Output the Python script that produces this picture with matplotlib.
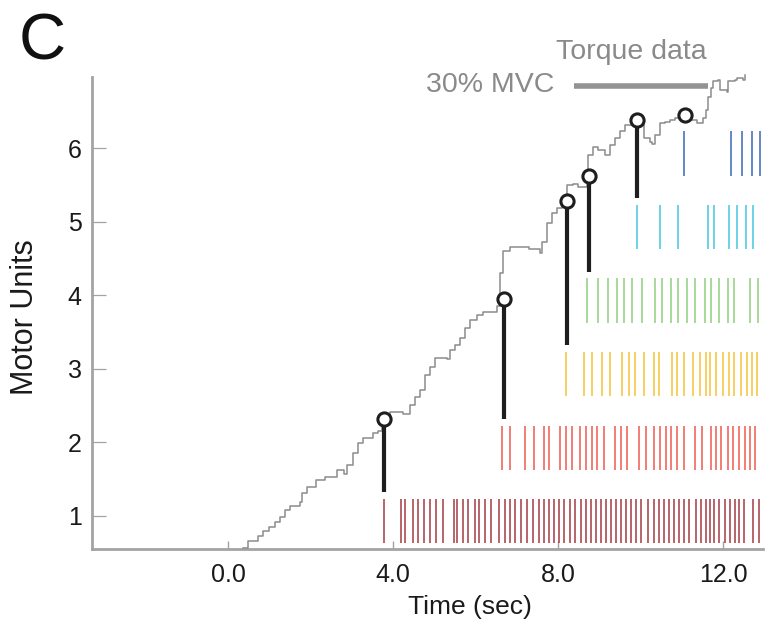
import matplotlib
matplotlib.use("Agg")
import matplotlib.pyplot as plt

plt.rcParams['font.family'] = ['Liberation Sans', 'DejaVu Sans']

# ---------------- data ----------------
torque_t = [0.37, 0.49, 0.73, 0.86, 1.00, 1.14, 1.26, 1.38, 1.50, 1.75, 1.79, 1.91, 2.13, 2.35,
            2.63, 2.80, 2.88, 3.04, 3.16, 3.28, 3.52, 3.64, 3.73, 3.93, 4.09, 4.25, 4.41, 4.53,
            4.65, 4.78, 4.90, 5.02, 5.30, 5.38, 5.50, 5.62, 5.75, 5.87, 6.03, 6.19, 6.43, 6.51,
            6.59, 6.67, 6.84, 7.30, 7.56, 7.60, 7.73, 7.85, 7.97, 8.09, 8.23, 8.37, 8.49, 8.70,
            8.73, 8.86, 8.98, 9.14, 9.26, 9.38, 9.50, 9.62, 9.79, 9.92, 10.07, 10.08, 10.23, 10.27,
            10.35, 10.47, 10.59, 10.72, 10.84, 11.00, 11.20, 11.36, 11.52, 11.60, 11.64, 11.72,
            11.76, 11.89, 11.93, 12.09, 12.13, 12.29, 12.33, 12.49, 12.53]
torque_v = [0.56, 0.66, 0.73, 0.79, 0.85, 0.92, 0.99, 1.08, 1.13, 1.19, 1.31, 1.39, 1.49, 1.53,
            1.62, 1.57, 1.69, 1.85, 1.99, 2.06, 2.13, 2.15, 2.26, 2.41, 2.41, 2.39, 2.51, 2.62,
            2.71, 2.92, 3.03, 3.15, 3.13, 3.26, 3.33, 3.42, 3.55, 3.67, 3.73, 3.78, 3.77, 3.85,
            4.30, 4.60, 4.66, 4.63, 4.58, 4.73, 4.98, 5.12, 5.19, 5.23, 5.50, 5.52, 5.48, 5.64,
            5.91, 6.02, 5.98, 5.91, 6.05, 6.14, 6.23, 6.32, 6.39, 6.40, 6.32, 6.14, 6.09, 6.06,
            6.18, 6.34, 6.36, 6.38, 6.41, 6.45, 6.39, 6.34, 6.41, 6.52, 6.70, 6.82,
            6.91, 6.93, 6.80, 6.77, 6.92, 6.93, 6.96, 6.93, 7.00]

mu1 = [3.79, 4.19, 4.29, 4.48, 4.61, 4.75, 4.90, 5.04, 5.20, 5.47, 5.55, 5.69, 5.83, 5.98, 6.09,
       6.23, 6.38, 6.58, 6.71, 6.84, 6.96, 7.10, 7.26, 7.39, 7.53, 7.66, 7.79, 7.91, 8.03, 8.15,
       8.28, 8.41, 8.55, 8.67, 8.79, 8.91, 9.04, 9.16, 9.28, 9.40, 9.52, 9.64, 9.76, 9.88, 10.01,
       10.17, 10.33, 10.44, 10.56, 10.68, 10.81, 10.93, 11.05, 11.18, 11.34, 11.46, 11.58, 11.68,
       11.79, 11.91, 12.05, 12.16, 12.28, 12.40, 12.51, 12.73, 12.87]
mu2 = [6.64, 6.84, 7.21, 7.42, 7.65, 7.77, 8.05, 8.19, 8.35, 8.53, 8.67, 8.82, 8.95, 9.12, 9.38,
       9.52, 9.67, 9.96, 10.13, 10.32, 10.47, 10.61, 10.75, 10.89, 11.05, 11.33, 11.48, 11.70,
       11.82, 11.96, 12.11, 12.25, 12.40, 12.53, 12.65, 12.78]
mu3 = [8.20, 8.63, 8.82, 9.07, 9.27, 9.56, 9.73, 9.87, 10.08, 10.33, 10.45, 10.76, 10.89, 11.06,
       11.28, 11.45, 11.58, 11.69, 11.83, 11.99, 12.14, 12.27, 12.44, 12.58, 12.70, 12.82]
mu4 = [8.71, 8.97, 9.22, 9.43, 9.61, 9.80, 10.03, 10.35, 10.51, 10.73, 10.90, 11.12, 11.31,
       11.56, 11.70, 11.90, 12.11, 12.27, 12.65, 12.86]
mu5 = [9.91, 10.47, 10.92, 11.64, 11.78, 12.15, 12.35, 12.55, 12.72]
mu6 = [11.06, 12.19, 12.45, 12.70, 12.90]
spike_trains = [mu1, mu2, mu3, mu4, mu5, mu6]
mu_colors = ['#a53a45', '#f05a50', '#f5c33a', '#8fcf7f', '#45c6e2', '#3a68b8']

recruit_t = [3.78, 6.69, 8.23, 8.75, 9.92, 11.09]
recruit_torque = [2.32, 3.95, 5.28, 5.62, 6.39, 6.45]
recruit_line = [True, True, True, True, True, False]

mvc_t = [8.39, 11.64]
mvc_level = 6.85

x_ticks = [0.0, 4.0, 8.0, 12.0]
x_tick_labels = ['0.0', '4.0', '8.0', '12.0']
y_ticks = [1, 2, 3, 4, 5, 6]

# ---------------- figure ----------------
W, H = 766, 628
fig = plt.figure(figsize=(W / 100, H / 100), dpi=100)
ax = fig.add_axes([91.5 / W, 1 - 549.3 / H, (763 - 91.5) / W, (549.3 - 77) / H])

gray = '#a3a3a3'

# spike trains
for i, (train, col) in enumerate(zip(spike_trains, mu_colors)):
    unit = i + 1
    ax.vlines(train, unit - 0.37, unit + 0.23, colors=col, linewidth=1.1)

# torque trace
ax.plot(torque_t, torque_v, drawstyle='steps-post', color='#8c8c8c', linewidth=1.1,
        clip_on=False, zorder=3)

# recruitment markers
for i, (t, v, has_line) in enumerate(zip(recruit_t, recruit_torque, recruit_line)):
    unit = i + 1
    if has_line:
        ax.plot([t, t], [unit + 0.32, v], color='#1e1e1e', linewidth=3.0,
                solid_capstyle='butt', zorder=4)
    ax.plot([t], [v], marker='o', markersize=9.5, markerfacecolor='white',
            markeredgecolor='#1e1e1e', markeredgewidth=2.2, zorder=5, clip_on=False)

# 30% MVC bar
ax.plot(mvc_t, [mvc_level, mvc_level], color='#939393', linewidth=4.0,
        solid_capstyle='butt', clip_on=False, zorder=3)

ax.set_xlim(-3.31, 12.97)
ax.set_ylim(0.547, 6.97)

for s in ['top', 'right']:
    ax.spines[s].set_visible(False)
for s in ['left', 'bottom']:
    ax.spines[s].set_color(gray)
    ax.spines[s].set_linewidth(2.0)

ax.set_xticks(x_ticks)
ax.set_xticklabels(x_tick_labels)
ax.set_yticks(y_ticks)
ax.tick_params(axis='x', direction='in', length=6, width=1.0, color=gray,
               labelsize=18, labelcolor='#1a1a1a', pad=10)
ax.tick_params(axis='y', direction='in', length=10, width=0.9, color=gray,
               labelsize=18, labelcolor='#1a1a1a', pad=7)

fig.text(25 / W, 1 - 317 / H, 'Motor Units', rotation=90, ha='center', va='center',
         fontsize=22, color='#1a1a1a')
fig.text(470 / W, 1 - 607 / H, 'Time (sec)', ha='center', va='center',
         fontsize=19, color='#1a1a1a')
fig.text(19 / W, 1 - 43 / H, 'C', ha='left', va='center', fontsize=47, color='#111111')
fig.text(631 / W, 1 - 52 / H, 'Torque data', ha='center', va='center',
         fontsize=20.5, color='#8a8a8a')
fig.text(554 / W, 1 - 85 / H, '30% MVC', ha='right', va='center',
         fontsize=20.5, color='#8a8a8a')

fig.savefig('out.png', dpi=100)
